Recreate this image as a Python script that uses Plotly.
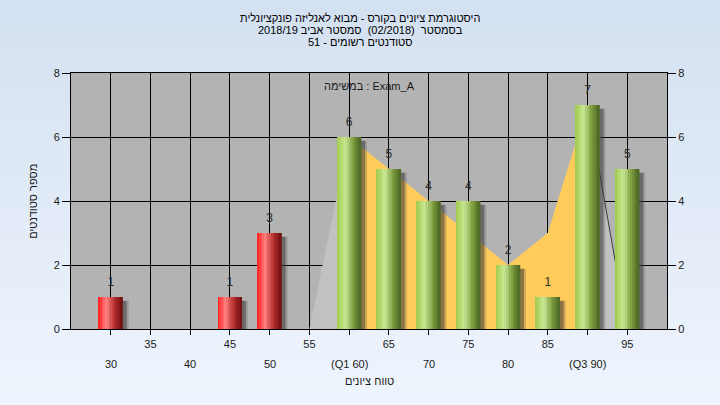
import plotly.graph_objects as go

# ---------------- data ----------------
scores = [30, 45, 50, 60, 65, 70, 75, 80, 85, 90, 95]
counts = [1, 1, 3, 6, 5, 4, 4, 2, 1, 7, 5]
pass_mark = 55

area_x = [55, 60, 65, 70, 75, 80, 85, 90, 95]
area_y = [0, 6, 5, 4, 3, 2, 3, 7, 0]
q1, q3 = 60, 90

tick_vals = [30, 35, 40, 45, 50, 55, 60, 65, 70, 75, 80, 85, 90, 95]
tick_row1 = ["", "35", "", "45", "", "55", "", "65", "", "75", "", "85", "", "95"]
tick_row2 = ["30", "", "40", "", "50", "", "(Q1 60)", "", "70", "", "80", "", "(Q3 90)", ""]
y_ticks = [0, 2, 4, 6, 8]

title_lines = [
    "היסטוגרמת ציונים בקורס - מבוא לאנליזה פונקציונלית",
    "בסמסטר  (02/2018)  סמסטר אביב 2018/19",
    "סטודנטים רשומים - 51",
]
legend_text = "במשימה : Exam_A"
x_title = "טווח ציונים"
y_title = "מספר סטודנטים"

# ---------------- styles ----------------
FONT = "Liberation Sans, Arial, sans-serif"
PLOT_BG = "#b3b3b3"
AREA_GREY = "#c1c1c1"
AREA_YELLOW = "#ffcb5a"


def hex2rgb(h):
    h = h.lstrip("#")
    return tuple(int(h[i:i + 2], 16) for i in (0, 2, 4))


def interp(stops, t):
    for (t0, c0), (t1, c1) in zip(stops, stops[1:]):
        if t0 <= t <= t1:
            f = (t - t0) / (t1 - t0) if t1 > t0 else 0
            a, b = hex2rgb(c0), hex2rgb(c1)
            return "rgb(%d,%d,%d)" % tuple(round(a[k] + (b[k] - a[k]) * f) for k in range(3))
    return stops[-1][1]


green_stops = [(0.0, "#9fca48"), (0.35, "#c9e795"), (0.7, "#7d9c3e"), (1.0, "#4a6422")]
red_stops = [(0.0, "#ff1f1f"), (0.33, "#ff8080"), (0.7, "#b02a2a"), (1.0, "#6e1010")]

BAR_W = 3.0
N_STRIPS = 14
strip_w = BAR_W / N_STRIPS

fig = go.Figure()

# background gradient + plot area (paper shapes below everything)
shapes = []
n_bg = 40
top_c, bot_c = hex2rgb("#d3e0f1"), hex2rgb("#eff5fd")
y_lo, y_hi = -0.32, 1.32
for i in range(n_bg):
    f = i / (n_bg - 1)
    c = tuple(round(bot_c[k] + (top_c[k] - bot_c[k]) * f) for k in range(3))
    y0 = y_lo + (y_hi - y_lo) * i / n_bg
    y1 = y_lo + (y_hi - y_lo) * (i + 1) / n_bg + 0.002
    shapes.append(dict(type="rect", xref="paper", yref="paper", x0=-0.2, x1=1.2,
                       y0=y0, y1=y1, fillcolor="rgb(%d,%d,%d)" % c,
                       line=dict(width=0), layer="below"))
shapes.append(dict(type="rect", xref="paper", yref="paper", x0=0, x1=1, y0=0, y1=1,
                   fillcolor=PLOT_BG, line=dict(width=0), layer="below"))

# grey area (base subplot)
fig.add_trace(go.Scatter(x=area_x, y=area_y, mode="lines", fill="tozeroy",
                         fillcolor=AREA_GREY, line=dict(width=0),
                         hoverinfo="skip", showlegend=False))
# yellow inter-quartile area
iq = [i for i, v in enumerate(area_x) if q1 <= v <= q3]
fig.add_trace(go.Scatter(x=[area_x[i] for i in iq], y=[area_y[i] for i in iq],
                         mode="lines", fill="tozeroy", fillcolor=AREA_YELLOW,
                         line=dict(width=0), hoverinfo="skip", showlegend=False))
# dark edge on the right of the grey area
fig.add_trace(go.Scatter(x=area_x[-2:], y=area_y[-2:], mode="lines",
                         line=dict(color="#3a3a3a", width=1),
                         hoverinfo="skip", showlegend=False))

# bar shadows (overlay subplot, drawn above areas)
for off, col in [(0.75, "rgba(70,70,70,0.25)"), (0.5, "rgba(50,50,50,0.45)")]:
    fig.add_trace(go.Bar(x=scores, y=counts, base=-0.12, offset=-BAR_W / 2 + off,
                         width=BAR_W, yaxis="y2",
                         marker=dict(color=col, line=dict(width=0)),
                         hoverinfo="skip", showlegend=False))

# cylinder bars as vertical colour strips
for i in range(N_STRIPS):
    t = (i + 0.5) / N_STRIPS
    cols = [interp(green_stops if s >= pass_mark else red_stops, t) for s in scores]
    fig.add_trace(go.Bar(x=scores, y=counts, offset=-BAR_W / 2 + i * strip_w,
                         width=strip_w * 1.15, yaxis="y2",
                         marker=dict(color=cols, line=dict(width=0)),
                         hoverinfo="skip", showlegend=False))

# value labels
fig.add_trace(go.Scatter(x=scores, y=counts, mode="markers+text",
                         text=[str(c) for c in counts],
                         textposition="top center", yaxis="y2",
                         marker=dict(size=12, opacity=0),
                         textfont=dict(family=FONT, size=12, color="#2b2b2b"),
                         hoverinfo="skip", showlegend=False))

annotations = []
title_y = [1.215, 1.168, 1.122]
for txt, yy in zip(title_lines, title_y):
    annotations.append(dict(text=txt, xref="paper", yref="paper", x=0.4849, y=yy,
                            xanchor="center", yanchor="middle", showarrow=False,
                            font=dict(family=FONT, size=11, color="#000000")))
annotations.append(dict(text=legend_text, xref="paper", yref="paper", x=0.5, y=0.948,
                        xanchor="center", yanchor="middle", showarrow=False,
                        font=dict(family=FONT, size=11, color="#1a1a1a")))
for v, t in zip(tick_vals, tick_row2):
    if t:
        annotations.append(dict(text=t, xref="x", yref="paper", x=v, y=-0.137,
                                xanchor="center", yanchor="middle", showarrow=False,
                                font=dict(family=FONT, size=11, color="#1a1a1a")))
annotations.append(dict(text=x_title, xref="paper", yref="paper", x=0.5, y=-0.205,
                        xanchor="center", yanchor="middle", showarrow=False,
                        font=dict(family=FONT, size=11, color="#1a1a1a")))
annotations.append(dict(text=y_title, xref="paper", yref="paper", x=-0.064, y=0.5,
                        xanchor="center", yanchor="middle", showarrow=False, textangle=-90,
                        font=dict(family=FONT, size=11, color="#1a1a1a")))

axis_font = dict(family=FONT, size=11, color="#1a1a1a")
fig.update_layout(
    width=720, height=405,
    margin=dict(l=71, r=53, t=73, b=76),
    paper_bgcolor="#e2ecf8",
    plot_bgcolor=PLOT_BG,
    barmode="overlay",
    showlegend=False,
    shapes=shapes,
    annotations=annotations,
    xaxis=dict(range=[25, 100], tickmode="array", tickvals=tick_vals, ticktext=tick_row1,
               ticks="outside", ticklen=5, tickcolor="#000", showgrid=True,
               gridcolor="#000", gridwidth=1, showline=True, linecolor="#000",
               linewidth=1, mirror=True, zeroline=False, tickfont=axis_font,
               fixedrange=True),
    yaxis=dict(range=[0, 8], tickmode="array", tickvals=y_ticks, ticks="outside",
               ticklen=8, tickcolor="#000", showgrid=True, gridcolor="#000",
               gridwidth=1, showline=True, linecolor="#000", linewidth=1,
               zeroline=False, tickfont=axis_font, fixedrange=True),
    yaxis2=dict(range=[0, 8], tickmode="array", tickvals=y_ticks, overlaying="y",
                side="right", ticks="outside", ticklen=8, tickcolor="#000",
                showgrid=False, showline=True, linecolor="#000", linewidth=1,
                zeroline=False, tickfont=axis_font, fixedrange=True),
)

fig.write_html("out.html", config={"displayModeBar": False},
               post_script="document.body.style.margin='0px';")
